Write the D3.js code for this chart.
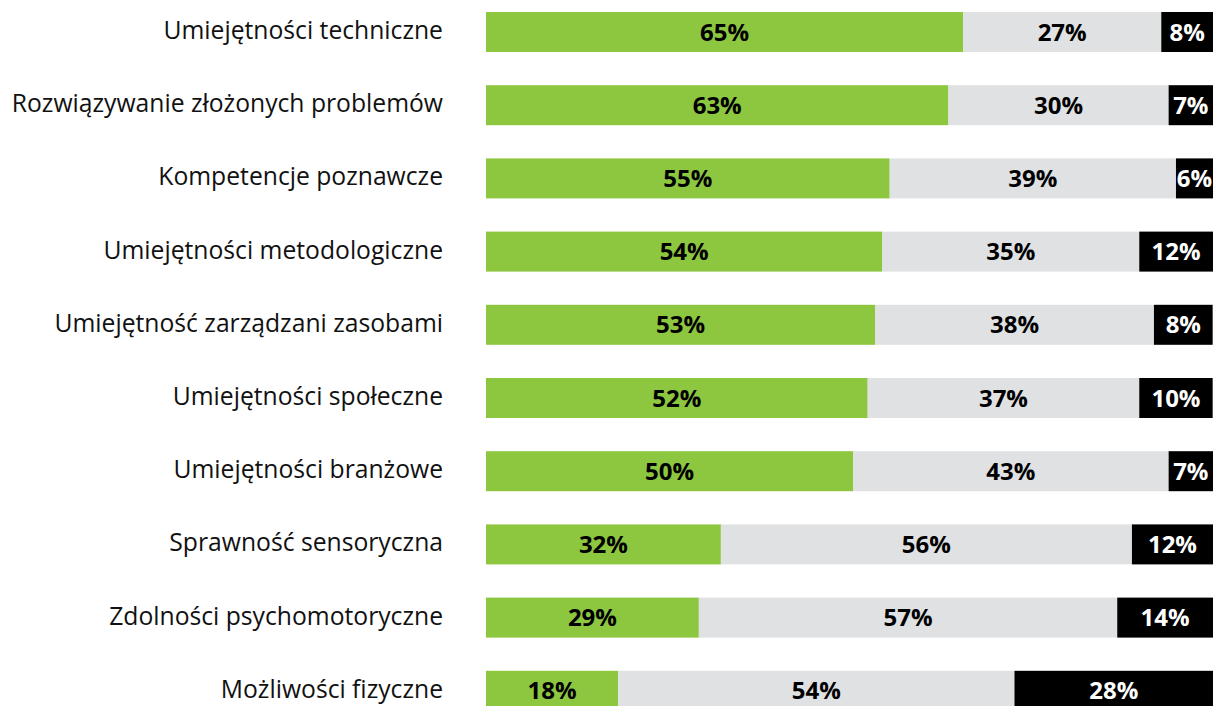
<!DOCTYPE html>
<html lang="pl">
<head>
  <meta charset="UTF-8">
  <title>Kompetencje</title>
  <script src="https://d3js.org/d3.v7.min.js"></script>
  <style>
    body { margin: 0; background: #fff; }
    .cat-label {
      font-family: "Open Sans", sans-serif;
      font-size: 24.7px;
      fill: #111;
    }
    .val-label {
      font-family: "Open Sans", sans-serif;
      font-weight: bold;
      font-size: 24px;
    }
  </style>
</head>
<body>
<svg id="chart" width="1216" height="706"></svg>
<script>
  // data
  const categories = [
    "Umiejętności techniczne",
    "Rozwiązywanie złożonych problemów",
    "Kompetencje poznawcze",
    "Umiejętności metodologiczne",
    "Umiejętność zarządzani zasobami",
    "Umiejętności społeczne",
    "Umiejętności branżowe",
    "Sprawność sensoryczna",
    "Zdolności psychomotoryczne",
    "Możliwości fizyczne"
  ];
  const greenValues = [65, 63, 55, 54, 53, 52, 50, 32, 29, 18];
  const grayValues  = [27, 30, 39, 35, 38, 37, 43, 56, 57, 54];
  const blackValues = [8, 7, 6, 12, 8, 10, 7, 12, 14, 28];

  const seriesKeys = ["green", "gray", "black"];
  const fills = {green: "#8dc63f", gray: "#dfe1e3", black: "#000000"};
  const textFills = {green: "#000", gray: "#000", black: "#fff"};

  const rows = categories.map((c, i) => ({
    cat: c, green: greenValues[i], gray: grayValues[i], black: blackValues[i]
  }));

  const svg = d3.select("#chart");
  const rightEdge = 1213;
  const step = 73.2, barH = 40;

  const x = d3.scaleLinear().domain([0, 100]).range([486, 1220]);
  const y = d3.scaleBand()
    .domain(categories)
    .range([12, 12 + step * (categories.length - 1) + barH])
    .paddingInner((step - barH) / step)
    .paddingOuter(0);

  svg.append("defs").append("clipPath").attr("id", "clip")
    .append("rect").attr("x", 0).attr("y", 0).attr("width", rightEdge).attr("height", 706);

  const stack = d3.stack().keys(seriesKeys)(rows);

  const g = svg.append("g").attr("clip-path", "url(#clip)");

  const layers = g.selectAll(".layer")
    .data(stack)
    .enter().append("g")
    .attr("class", "layer");

  layers.selectAll("rect")
    .data(d => d.map(p => ({key: d.key, p: p})))
    .enter().append("rect")
    .attr("x", d => x(d.p[0]))
    .attr("y", d => y(d.p.data.cat))
    .attr("width", d => x(d.p[1]) - x(d.p[0]))
    .attr("height", y.bandwidth())
    .attr("fill", d => fills[d.key]);

  layers.selectAll("text")
    .data(d => d.map(p => ({key: d.key, p: p})))
    .enter().append("text")
    .attr("class", "val-label")
    .attr("x", d => (x(d.p[0]) + Math.min(x(d.p[1]), rightEdge)) / 2)
    .attr("y", d => y(d.p.data.cat) + y.bandwidth() / 2)
    .attr("dy", "0.36em")
    .attr("text-anchor", "middle")
    .attr("fill", d => textFills[d.key])
    .text(d => (d.p[1] - d.p[0]) + "%");

  // category labels
  svg.append("g")
    .attr("transform", "translate(443,0)")
    .call(d3.axisLeft(y).tickSize(0).tickPadding(0))
    .call(a => a.select(".domain").remove())
    .selectAll("text")
    .attr("class", "cat-label")
    .attr("dy", "0.28em")
    .attr("font-family", null)
    .attr("font-size", null);
  svg.selectAll(".tick text").attr("fill", null);
</script>
</body>
</html>
